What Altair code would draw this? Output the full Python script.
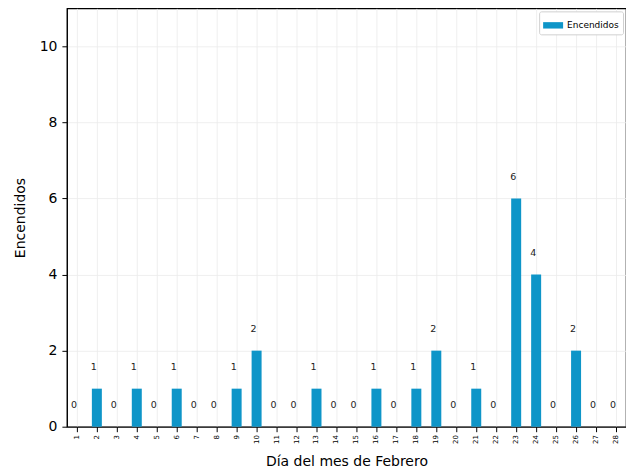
import altair as alt
import pandas as pd

days = list(range(1, 29))
encendidos = [0, 1, 0, 1, 0, 1, 0, 0, 1, 2, 0, 0, 1, 0, 0, 1, 0, 1, 2, 0, 1, 0, 6, 4, 0, 2, 0, 0]

df = pd.DataFrame({"dia": [str(d) for d in days], "valor": encendidos, "serie": "Encendidos"})

color = "#0e95c8"
xenc = alt.X("dia:O", sort=[str(d) for d in days],
             scale=alt.Scale(paddingInner=0.5, paddingOuter=0.25),
             axis=alt.Axis(title="Día del mes de Febrero", labelAngle=270, labelFontSize=7,
                           labelAlign="right", labelBaseline="middle", labelPadding=3,
                           titleFontSize=14, titleFontWeight="normal", titlePadding=11,
                           grid=True, gridColor="#ebebeb", gridWidth=0.8,
                           domainColor="black", tickColor="black", tickSize=5,
                           labelColor="black", titleColor="black"))

bars = alt.Chart(df).mark_bar(color=color).encode(
    x=xenc,
    y=alt.Y("valor:Q", scale=alt.Scale(domain=[0, 11], nice=False),
            axis=alt.Axis(title="Encendidos", values=[0, 2, 4, 6, 8, 10], labelFontSize=14,
                          titleFontSize=14, titleFontWeight="normal", titlePadding=12,
                          labelPadding=5,
                          grid=True, gridColor="#ebebeb", gridWidth=0.8,
                          domainColor="black", tickColor="black", tickSize=5,
                          labelColor="black", titleColor="black")),
    color=alt.Color("serie:N", scale=alt.Scale(range=[color]),
                    legend=alt.Legend(title=None, orient="top-right", offset=3,
                                      fillColor="white", strokeColor="#d0d0d0", padding=4,
                                      cornerRadius=2, labelFontSize=9, labelColor="black",
                                      symbolType="M-1,-0.32H1V0.32H-1Z", symbolSize=400,
                                      symbolStrokeWidth=0, symbolOpacity=1)),
)

labels = alt.Chart(df).transform_calculate(ypos="datum.valor + 0.5").mark_text(
    align="left", baseline="alphabetic", fontSize=9.5, color="#222222", dx=-1
).encode(
    x=alt.X("dia:O", sort=[str(d) for d in days], bandPosition=0),
    y=alt.Y("ypos:Q"),
    text=alt.Text("valor:Q"),
)

chart = alt.layer(bars, labels).properties(
    width=560, height=419,
    autosize=alt.AutoSizeParams(type="none"),
    padding={"left": 59, "top": 0, "right": 0, "bottom": 44},
).configure_view(stroke="black", strokeWidth=1.2).configure_axis(labelFont="DejaVu Sans", titleFont="DejaVu Sans").configure_legend(labelFont="DejaVu Sans").configure_text(font="DejaVu Sans")

chart.save("out.html", embed_options={"renderer": "svg", "actions": False})
